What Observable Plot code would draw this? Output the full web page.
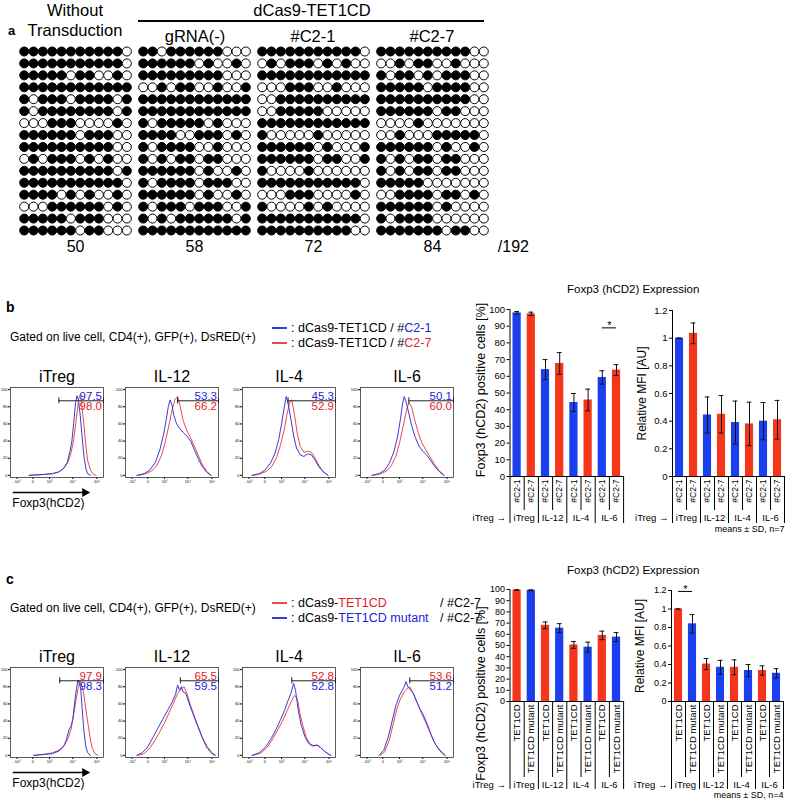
<!DOCTYPE html>
<html><head><meta charset="utf-8">
<script src="https://cdn.jsdelivr.net/npm/d3@7"></script>
<script src="https://cdn.jsdelivr.net/npm/@observablehq/plot@0.6"></script>
<style>
body{margin:0;background:#fff;}
#fig{position:relative;width:785px;height:802px;overflow:hidden;background:#fff;font-family:"Liberation Sans",Arial,Helvetica,sans-serif;color:#000;}
.t{position:absolute;white-space:nowrap;line-height:1;}
</style></head><body><div id="fig"></div>
<script>
// ---------------- DATA ----------------
// Panel a: bisulfite CpG status (1 = methylated/filled, 0 = unmethylated/open), 16 clones x 12 CpG
const methylWithout = ["111111111110","111111111110","111110110010","111111111111","101110111101","101111111101","000111000010","111111011100","111111111100","010111010100","111111111101","111111111110","111101010010","000111111010","111110111000","111111011000"];
const methylGRNA = ["110111111000","111111010010","111111111000","001011001001","111111111111","111111111111","101111101000","111100111010","101111001000","101011011000","111111010010","101111011100","111111010010","101110111001","101011111101","111111111111"];
const methylC21 = ["111111111110","010111010100","111111111111","000111001000","001111111111","001111100000","111111111111","100000100000","111111010001","111111011001","100001000000","111111111110","000111000010","100001010000","111111111110","111111111100"];
const methylC27 = ["111111111100","001011001000","101101011100","111110111100","111111111100","111111011000","000010000000","001000111110","111111010010","101011011000","101011011000","111110000000","001111011010","111111010000","101111000000","111111101100"];
const unmethylCounts = [50, 58, 72, 84];
const totalCpG = "/192";

// Bar charts
const groups = ["iTreg", "IL-12", "IL-4", "IL-6"];
const bSeries = ["#C2-1", "#C2-7"];
const bPosC21 = [98.0, 64.0, 44.3, 59.3];
const bPosC21Sd = [0.8, 6.0, 5.4, 4.0];
const bPosC27 = [97.4, 67.7, 45.8, 63.7];
const bPosC27Sd = [1.0, 6.5, 6.5, 3.3];
const bMfiC21 = [1.0, 0.445, 0.39, 0.40];
const bMfiC21Sd = [0, 0.13, 0.155, 0.135];
const bMfiC27 = [1.035, 0.45, 0.38, 0.41];
const bMfiC27Sd = [0.075, 0.135, 0.157, 0.14];

const cSeries = ["TET1CD", "TET1CD mutant"];
const cPosTet = [99.5, 68.0, 50.5, 59.0];
const cPosTetSd = [0.3, 3.0, 3.0, 3.8];
const cPosMut = [99.3, 65.5, 48.5, 57.5];
const cPosMutSd = [0.4, 4.0, 4.5, 4.0];
const cMfiTet = [1.0, 0.405, 0.37, 0.335];
const cMfiTetSd = [0, 0.06, 0.08, 0.05];
const cMfiMut = [0.84, 0.37, 0.335, 0.305];
const cMfiMutSd = [0.1, 0.075, 0.065, 0.05];

// Histogram axis
const histXTicks = [0.07, 0.24, 0.42, 0.67, 0.93];
const histXTickLabels = ["-10³", "0", "10³", "10⁴", "10⁵"];
const histYTicks = [0, 20, 40, 60, 80, 100];

// Histograms, panel b  ([position, % of max])
const hbITregBlue = [[0.2,0],[0.35,1],[0.45,2],[0.52,4],[0.57,8],[0.61,15],[0.64,28],[0.66,40],[0.68,62],[0.70,85],[0.715,93],[0.73,88],[0.75,70],[0.77,45],[0.79,22],[0.81,8],[0.83,2],[0.86,0]];
const hbITregRed = [[0.2,0],[0.35,1],[0.45,2],[0.52,4],[0.58,9],[0.62,16],[0.65,26],[0.68,42],[0.71,68],[0.735,90],[0.75,94],[0.765,84],[0.79,58],[0.81,35],[0.83,17],[0.86,6],[0.89,1],[0.92,0]];
const hbIL12Blue = [[0.12,0],[0.2,2],[0.26,6],[0.32,15],[0.37,30],[0.41,48],[0.44,66],[0.46,80],[0.48,88],[0.5,82],[0.52,70],[0.55,60],[0.58,55],[0.62,50],[0.66,46],[0.7,40],[0.74,30],[0.78,20],[0.82,11],[0.87,4],[0.92,0]];
const hbIL12Red = [[0.14,0],[0.22,2],[0.28,5],[0.34,12],[0.39,24],[0.43,40],[0.47,60],[0.5,76],[0.53,88],[0.56,92],[0.59,80],[0.62,64],[0.66,52],[0.7,44],[0.74,34],[0.78,24],[0.82,14],[0.87,5],[0.92,0]];
const hbIL4Blue = [[0.1,0],[0.18,2],[0.24,6],[0.3,14],[0.35,26],[0.39,42],[0.42,60],[0.45,80],[0.47,92],[0.49,84],[0.52,66],[0.55,46],[0.58,32],[0.62,24],[0.66,22],[0.7,25],[0.74,24],[0.78,18],[0.82,10],[0.87,4],[0.92,0]];
const hbIL4Red = [[0.12,0],[0.2,2],[0.26,5],[0.32,11],[0.37,22],[0.41,36],[0.45,54],[0.48,72],[0.51,86],[0.53,88],[0.56,70],[0.59,48],[0.62,34],[0.66,27],[0.7,28],[0.74,27],[0.78,20],[0.82,12],[0.87,4],[0.92,0]];
const hbIL6Blue = [[0.12,0],[0.2,2],[0.26,6],[0.31,14],[0.36,28],[0.4,46],[0.43,66],[0.45,82],[0.47,92],[0.49,86],[0.52,72],[0.55,58],[0.59,44],[0.63,34],[0.67,28],[0.71,24],[0.75,18],[0.8,10],[0.85,4],[0.9,0]];
const hbIL6Red = [[0.14,0],[0.22,2],[0.28,5],[0.33,11],[0.38,22],[0.42,38],[0.46,58],[0.49,74],[0.52,85],[0.55,80],[0.58,66],[0.62,50],[0.66,38],[0.7,30],[0.74,23],[0.79,14],[0.84,6],[0.9,0]];
// Histograms, panel c
const hcITregRed = [[0.25,0],[0.35,1],[0.45,3],[0.52,6],[0.58,12],[0.62,20],[0.65,30],[0.68,48],[0.71,68],[0.73,80],[0.745,87],[0.76,84],[0.78,76],[0.80,62],[0.82,46],[0.84,32],[0.86,18],[0.88,8],[0.91,2],[0.94,0]];
const hcITregBlue = [[0.25,0],[0.35,1],[0.45,2],[0.52,5],[0.57,10],[0.60,18],[0.63,30],[0.65,34],[0.67,42],[0.69,62],[0.71,78],[0.725,88],[0.74,84],[0.755,78],[0.77,55],[0.79,28],[0.81,10],[0.83,3],[0.86,0]];
const hcIL12Red = [[0.14,0],[0.2,2],[0.26,8],[0.32,18],[0.37,28],[0.42,38],[0.47,50],[0.52,62],[0.56,72],[0.6,78],[0.63,80],[0.66,72],[0.7,58],[0.74,46],[0.78,34],[0.83,20],[0.88,10],[0.93,3],[0.97,0]];
const hcIL12Blue = [[0.12,0],[0.18,3],[0.24,10],[0.3,22],[0.35,32],[0.4,42],[0.45,52],[0.5,62],[0.54,72],[0.56,82],[0.58,76],[0.6,80],[0.62,74],[0.65,72],[0.68,62],[0.72,50],[0.77,36],[0.82,22],[0.87,10],[0.92,3],[0.96,0]];
const hcIL4Red = [[0.12,0],[0.2,3],[0.27,10],[0.33,20],[0.38,30],[0.43,40],[0.48,52],[0.52,62],[0.56,70],[0.59,66],[0.62,48],[0.65,34],[0.69,20],[0.73,13],[0.77,11],[0.81,12],[0.85,8],[0.89,4],[0.93,1],[0.95,0]];
const hcIL4Blue = [[0.1,0],[0.18,3],[0.25,10],[0.31,20],[0.36,30],[0.41,42],[0.45,52],[0.49,64],[0.52,72],[0.55,84],[0.57,76],[0.6,52],[0.63,36],[0.67,22],[0.71,14],[0.75,11],[0.8,12],[0.84,9],[0.88,5],[0.92,2],[0.95,0]];
const hcIL6Red = [[0.21,0],[0.26,4],[0.31,18],[0.35,36],[0.39,54],[0.43,66],[0.47,74],[0.5,78],[0.53,80],[0.56,74],[0.59,66],[0.63,56],[0.67,46],[0.71,36],[0.75,26],[0.79,16],[0.84,7],[0.88,2],[0.91,0]];
const hcIL6Blue = [[0.2,0],[0.25,6],[0.3,22],[0.34,40],[0.38,58],[0.42,70],[0.45,76],[0.47,80],[0.49,86],[0.51,80],[0.54,76],[0.57,72],[0.6,64],[0.64,54],[0.68,46],[0.72,36],[0.76,24],[0.8,14],[0.84,8],[0.88,3],[0.91,0]];

const gatesB = [0.52, 0.56, 0.49, 0.52];
const gatesC = [0.53, 0.59, 0.53, 0.53];
const pctB21 = ["97.5", "53.3", "45.3", "50.1"];
const pctB27 = ["98.0", "66.2", "52.9", "60.0"];
const pctCTet = ["97.9", "65.5", "52.8", "53.6"];
const pctCMut = ["98.3", "59.5", "52.8", "51.2"];

// ---------------- STYLE / HELPERS ----------------
const FONT = '"Liberation Sans", Arial, Helvetica, sans-serif';
const RED = "#f5361a", BLUE = "#1a3ff0";
const RED_TXT = "#e3202a", BLUE_TXT = "#2323d6";
const RED_LINE = "#e84a52", BLUE_LINE = "#3a3ad8";
const fig = document.getElementById("fig");

function mount(svg, left, top, w, h) {
  const d = document.createElement("div");
  d.style.cssText = `position:absolute;left:${left}px;top:${top}px;width:${w}px;height:${h}px;`;
  d.appendChild(svg);
  fig.appendChild(d);
}
function txt(html, x, cy, fs, opt = {}) {
  const d = document.createElement("div");
  d.className = "t";
  d.innerHTML = html;
  d.style.fontSize = fs + "px";
  d.style.top = (cy - 0.5 * fs) + "px";
  d.style.left = x + "px";
  if (opt.center) d.style.transform = "translateX(-50%)";
  if (opt.bold) d.style.fontWeight = "bold";
  fig.appendChild(d);
}
function hline(x, y, w, color, th = 1.5) {
  const d = document.createElement("div");
  d.style.cssText = `position:absolute;left:${x}px;top:${y - th / 2}px;width:${w}px;height:${th}px;background:${color};`;
  fig.appendChild(d);
}
function styleFor(fs) {
  return {fontFamily: FONT, fontSize: fs + "px", background: "transparent", overflow: "visible", maxWidth: "none", color: "#000"};
}

// ---------------- PANEL a ----------------
txt("a", 8, 30, 13, {bold: true});
txt("Without", 75, 10, 16.5, {center: true});
txt("Transduction", 75, 30, 16.5, {center: true});
txt("dCas9-TET1CD", 312, 10, 16.5, {center: true});
hline(138, 21, 346, "#000", 1.3);
txt("gRNA(-)", 195, 36, 16.5, {center: true});
txt("#C2-1", 313, 36, 16.5, {center: true});
txt("#C2-7", 432, 36, 16.5, {center: true});

const gStep = 12.75;
const dots = [];
[methylWithout, methylGRNA, methylC21, methylC27].forEach((grp, gi) =>
  grp.forEach((row, ri) => [...row].forEach((ch, ci) => dots.push({gi, ri, ci, m: ch === "1"}))));
mount(Plot.plot({
  width: 540, height: 262, margin: 0,
  style: styleFor(16),
  x: {domain: [0, 3 * gStep + 11], range: [23.7, 483.3], axis: null},
  y: {domain: [0, 15], range: [51, 230], axis: null},
  color: {type: "identity"},
  marks: [
    Plot.dot(dots, {x: d => d.gi * gStep + d.ci, y: d => d.ri, r: 4.5, fill: d => d.m ? "#000" : "#fff", stroke: "#000", strokeWidth: 1}),
    Plot.text(unmethylCounts, {x: (d, i) => i * gStep + 5.5, y: () => 15, dy: 16, text: d => String(d), fontSize: 16}),
    Plot.text([totalCpG], {x: () => 3 * gStep + 11, y: () => 15, dx: 14, dy: 16, textAnchor: "start", fontSize: 16})
  ]
}), 0, 0, 540, 262);

// ---------------- HISTOGRAMS ----------------
const GATE_Y = 87;
const boxLefts = [9.5, 124.5, 241.5, 359.5];
const histTitles = ["iTreg", "IL-12", "IL-4", "IL-6"];
const xLabelMap = new Map(histXTicks.map((t, i) => [t, histXTickLabels[i]]));

function histogram(h) {
  const marks = [
    Plot.frame({stroke: "#333", strokeWidth: 0.8}),
    Plot.line(h.first.pts, {x: d => d[0], y: d => d[1], stroke: h.first.color, strokeWidth: 1}),
    Plot.line(h.second.pts, {x: d => d[0], y: d => d[1], stroke: h.second.color, strokeWidth: 1}),
    Plot.ruleY([h.gate], {x1: d => d, x2: () => 1, y: () => GATE_Y, stroke: "#222", strokeWidth: 1}),
    Plot.ruleX([h.gate, 1], {x: d => d, y1: () => GATE_Y, y2: () => GATE_Y, insetTop: -3, insetBottom: -3, stroke: "#222"}),
    Plot.text([h.upper], {x: () => 1, y: () => GATE_Y, text: d => d.v, fill: d => d.c, textAnchor: "end", lineAnchor: "bottom", dx: -1.5, dy: -1, fontSize: 11.5}),
    Plot.text([h.lower], {x: () => 1, y: () => GATE_Y, text: d => d.v, fill: d => d.c, textAnchor: "end", lineAnchor: "top", dx: -1.5, dy: 1.5, fontSize: 11.5}),
    Plot.text([h.title], {frameAnchor: "top", textAnchor: "middle", lineAnchor: "bottom", dy: -6, fontSize: 16})
  ];
  if (h.arrow) {
    marks.push(
      Plot.ruleY([0], {x1: () => 0.03, x2: () => 0.78, y: () => -2.5, dy: 15, stroke: "#000", strokeWidth: 1.4}),
      Plot.dot([0], {x: () => 0.8, y: () => -2.5, dy: 15, symbol: "triangle", rotate: 90, r: 3.4, fill: "#000", stroke: "none"}),
      Plot.text(["Foxp3(hCD2)"], {x: () => 0.02, y: () => -2.5, dy: 26, textAnchor: "start", fontSize: 12})
    );
  }
  return Plot.plot({
    width: 109, height: 156, marginLeft: 12, marginRight: 4, marginTop: 26, marginBottom: 40,
    style: styleFor(4),
    x: {domain: [0, 1], ticks: histXTicks, tickFormat: d => xLabelMap.get(d), tickSize: 2, tickPadding: 1, label: null},
    y: {domain: [-2.5, 102.5], ticks: histYTicks, tickSize: 2, tickPadding: 1, label: null},
    color: {type: "identity"},
    marks
  });
}

const histB = [[hbITregRed, hbITregBlue], [hbIL12Red, hbIL12Blue], [hbIL4Red, hbIL4Blue], [hbIL6Red, hbIL6Blue]];
histB.forEach(([red, blue], i) => {
  mount(histogram({
    title: histTitles[i], gate: gatesB[i], arrow: i === 0,
    first: {pts: red, color: RED_LINE}, second: {pts: blue, color: BLUE_LINE},
    upper: {v: pctB21[i], c: BLUE_TXT}, lower: {v: pctB27[i], c: RED_TXT}
  }), boxLefts[i] - 12, 387 - 26, 109, 156);
});
const histC = [[hcITregRed, hcITregBlue], [hcIL12Red, hcIL12Blue], [hcIL4Red, hcIL4Blue], [hcIL6Red, hcIL6Blue]];
histC.forEach(([red, blue], i) => {
  mount(histogram({
    title: histTitles[i], gate: gatesC[i], arrow: i === 0,
    first: {pts: red, color: RED_LINE}, second: {pts: blue, color: BLUE_LINE},
    upper: {v: pctCTet[i], c: RED_TXT}, lower: {v: pctCMut[i], c: BLUE_TXT}
  }), boxLefts[i] - 12, 667 - 26, 109, 156);
});

// ---------------- BAR CHARTS ----------------
function barChart(c) {
  const rows = [];
  c.groups.forEach((g, gi) => c.series.forEach((s, si) =>
    rows.push({i: gi * 2 + si, s, mean: c.means[si][gi], sd: c.sds[si][gi], color: c.colors[si]})));
  const n = rows.length;
  const marks = [
    Plot.rect(rows, {x1: d => d.i - 0.29, x2: d => d.i + 0.29, y1: () => 0, y2: d => d.mean, fill: d => d.color}),
    Plot.ruleX(rows, {x: d => d.i, y1: d => Math.max(0, d.mean - d.sd), y2: d => d.mean + d.sd, stroke: "#111"}),
    Plot.ruleY(rows, {y: d => d.mean + d.sd, x1: d => d.i - 0.17, x2: d => d.i + 0.17, stroke: "#111"}),
    Plot.ruleY(rows, {y: d => d.mean - d.sd, x1: d => d.i - 0.17, x2: d => d.i + 0.17, stroke: "#111"}),
    Plot.ruleY([0], {x1: () => -0.5, x2: () => n - 0.5, stroke: "#000"}),
    Plot.ruleX([-0.5], {y1: () => c.yMax, y2: () => 0, insetBottom: -c.tableH, stroke: "#000"}),
    Plot.ruleX(d3.range(1.5, n, 2), {y1: () => 0, y2: () => 0, insetBottom: -c.tableH, stroke: "#000"}),
    Plot.ruleX(d3.range(0.5, n, 2), {y1: () => 0, y2: () => 0, insetBottom: -c.innerH, stroke: "#000"}),
    Plot.text(rows, {x: d => d.i, y: () => 0, text: d => d.s, rotate: -90, textAnchor: "end", dy: 3, fontSize: c.subFont}),
    Plot.text(c.groups, {x: (d, i) => 2 * i + 0.5, y: () => 0, dy: c.groupDy, fontSize: c.groupFont}),
    Plot.text(["iTreg →"], {x: () => -0.5, y: () => 0, dx: -4, dy: c.groupDy, textAnchor: "end", fontSize: c.groupFont}),
    Plot.text([c.yLabel], {frameAnchor: "left", textAnchor: "middle", lineAnchor: "middle", rotate: -90, dx: c.yLabelDx, dy: c.yLabelDy, fontSize: c.yLabelFont})
  ];
  if (c.meansText) marks.push(Plot.text([c.meansText], {x: () => n - 0.5, y: () => 0, dy: c.meansDy, textAnchor: "end", fontSize: 9}));
  if (c.sig) marks.push(
    Plot.ruleY([c.sig], {y: d => d.y, x1: d => d.i1, x2: d => d.i2, stroke: "#000"}),
    Plot.text([c.sig], {x: d => (d.i1 + d.i2) / 2, y: d => d.y, text: () => "*", dy: -2, fontSize: 11})
  );
  return Plot.plot({
    width: c.width, height: c.height,
    marginLeft: c.ml, marginRight: c.mr, marginTop: c.mt, marginBottom: c.mb,
    style: styleFor(c.tickFont),
    x: {domain: [-0.5, n - 0.5], axis: null},
    y: {domain: [0, c.yMax], ticks: c.ticks, tickFormat: c.tickFormat, tickSize: 3, tickPadding: 2, label: null},
    color: {type: "identity"},
    marks
  });
}
const pctTicks = d3.range(0, 101, 10);
const mfiTicks = [0, 0.2, 0.4, 0.6, 0.8, 1, 1.2];
const fmtPct = d => String(d);
const fmtMfi = d => String(+d.toFixed(1));

// panel b
mount(barChart({
  groups, series: bSeries, means: [bPosC21, bPosC27], sds: [bPosC21Sd, bPosC27Sd], colors: [BLUE, RED],
  yMax: 100, ticks: pctTicks, tickFormat: fmtPct, tickFont: 9.5,
  width: 176, height: 240, ml: 57.5, mr: 4.9, mt: 13, mb: 60,
  yLabel: "Foxp3 (hCD2) positive cells [%]", yLabelDx: -29.5, yLabelDy: -3, yLabelFont: 12.5,
  subFont: 8.5, innerH: 34, tableH: 47, groupDy: 41, groupFont: 9.5,
  sig: {i1: 6, i2: 7, y: 89}
}), 452, 296, 176, 240);
mount(barChart({
  groups, series: bSeries, means: [bMfiC21, bMfiC27], sds: [bMfiC21Sd, bMfiC27Sd], colors: [BLUE, RED],
  yMax: 1.2, ticks: mfiTicks, tickFormat: fmtMfi, tickFont: 9.5,
  width: 157, height: 240, ml: 44, mr: 1, mt: 14, mb: 60,
  yLabel: "Relative MFI [AU]", yLabelDx: -30, yLabelDy: 0, yLabelFont: 12,
  subFont: 8.5, innerH: 34, tableH: 47, groupDy: 41, groupFont: 9.5,
  meansText: "means ± SD, n=7", meansDy: 53
}), 628, 296, 157, 240);

// panel c
mount(barChart({
  groups, series: cSeries, means: [cPosTet, cPosMut], sds: [cPosTetSd, cPosMutSd], colors: [RED, BLUE],
  yMax: 100, ticks: pctTicks, tickFormat: fmtPct, tickFont: 9,
  width: 176, height: 226, ml: 57.5, mr: 4.9, mt: 13, mb: 101,
  yLabel: "Foxp3 (hCD2) positive cells [%]", yLabelDx: -29.5, yLabelDy: 48, yLabelFont: 12.5,
  subFont: 9.5, innerH: 76, tableH: 88, groupDy: 83, groupFont: 9.5
}), 452, 576, 176, 226);
mount(barChart({
  groups, series: cSeries, means: [cMfiTet, cMfiMut], sds: [cMfiTetSd, cMfiMutSd], colors: [RED, BLUE],
  yMax: 1.2, ticks: mfiTicks, tickFormat: fmtMfi, tickFont: 9,
  width: 157, height: 226, ml: 43, mr: 2, mt: 14, mb: 101,
  yLabel: "Relative MFI [AU]", yLabelDx: -31, yLabelDy: 0, yLabelFont: 12,
  subFont: 9.5, innerH: 76, tableH: 88, groupDy: 83, groupFont: 9.5,
  meansText: "means ± SD, n=4", meansDy: 94,
  sig: {i1: 0, i2: 1, y: 1.19}
}), 628, 576, 157, 226);

// ---------------- PANEL b / c TEXT ----------------
txt("b", 6, 307, 14, {bold: true});
txt("Gated on live cell, CD4(+), GFP(+), DsRED(+)", 10, 337, 12);
hline(272, 328, 15, BLUE_LINE, 1.5);
txt(`: dCas9-TET1CD / #<span style="color:${BLUE_TXT}">C2-1</span>`, 291, 328, 12.5);
hline(272, 343, 15, RED_LINE, 1.5);
txt(`: dCas9-TET1CD / #<span style="color:${RED_TXT}">C2-7</span>`, 291, 343, 12.5);
txt("Foxp3 (hCD2) Expression", 567, 290, 11.5);

txt("c", 6, 579, 14, {bold: true});
txt("Gated on live cell, CD4(+), GFP(+), DsRED(+)", 10, 608, 12);
hline(272, 603, 15, RED_LINE, 1.5);
txt(`: dCas9-<span style="color:${RED_TXT}">TET1CD</span>`, 291, 603, 12.5);
txt("/ #C2-7", 440, 603, 12.5);
hline(272, 618, 15, BLUE_LINE, 1.5);
txt(`: dCas9-<span style="color:${BLUE_TXT}">TET1CD mutant</span>`, 291, 618, 12.5);
txt("/ #C2-7", 440, 618, 12.5);
txt("Foxp3 (hCD2) Expression", 567, 571, 11.5);
</script></body></html>
